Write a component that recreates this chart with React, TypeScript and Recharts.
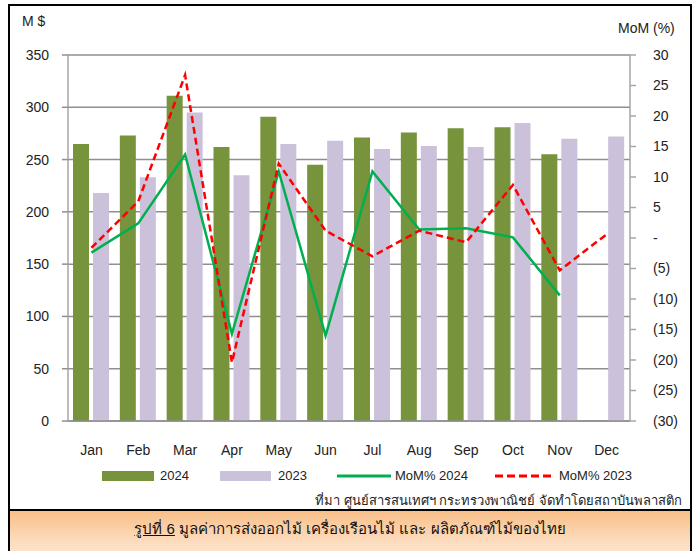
import { ComposedChart, Bar, Line, XAxis, YAxis, CartesianGrid } from 'recharts';

const months = ['Jan', 'Feb', 'Mar', 'Apr', 'May', 'Jun', 'Jul', 'Aug', 'Sep', 'Oct', 'Nov', 'Dec'];
const exports2024 = [265, 273, 311, 262, 291, 245, 271, 276, 280, 281, 255, null];
const exports2023 = [218, 233, 295, 235, 265, 268, 260, 263, 262, 285, 270, 272];
const mom2024 = [-2.4, 2.4, 13.7, -15.7, 10.9, -16, 10.9, 1.4, 1.6, 0.1, -9.4, null];
const mom2023 = [-1.6, 6, 26.7, -20.4, 12.2, 1.2, -3, 1.2, -0.7, 8.7, -5.3, 0.6];
const leftTicks = [0, 50, 100, 150, 200, 250, 300, 350];
const rightTicks = [-30, -25, -20, -15, -10, -5, 0, 5, 10, 15, 20, 25, 30];

const data = months.map((m, i) => ({
  month: m,
  y2024: exports2024[i],
  y2023: exports2023[i],
  mom2024: mom2024[i],
  mom2023: mom2023[i],
}));

const GREEN_BAR = '#77933c';
const LAVENDER = '#ccc1da';
const GREEN_LINE = '#00b050';
const RED = '#ff0000';
const GRID = '#8f8f8f';
const AXIS = '#a6a6a6';
const FONT = '"Liberation Sans", Arial, sans-serif';

const fmtRight = (v: number) => (v === 0 ? '-' : v < 0 ? `(${-v})` : `${v}`);

export default function App() {
  return (
    <div style={{ position: 'absolute', left: 0, top: 0, width: 692, height: 551, background: '#fff', fontFamily: FONT, overflow: 'hidden' }}>
      <div style={{ position: 'absolute', left: 8, top: 4, width: 680, height: 505, border: '2px solid #000' }} />
      <div style={{ position: 'absolute', left: 22, top: 13, fontSize: 14, color: '#222' }}>M $</div>
      <div style={{ position: 'absolute', left: 618, top: 20, fontSize: 14, color: '#222' }}>MoM (%)</div>
      <div style={{ position: 'absolute', left: 0, top: 0 }}>
        <ComposedChart width={692} height={551} data={data} margin={{ top: 55, right: 0, bottom: 100, left: 0 }} barGap={4}>
          <CartesianGrid yAxisId="left" vertical={false} stroke={GRID} strokeWidth={1.5} />
          <XAxis
            dataKey="month"
            height={30}
            axisLine={{ stroke: GRID, strokeWidth: 1.5 }}
            tickLine={false}
            tickMargin={18}
            tick={{ fontSize: 14, fill: '#222', fontFamily: FONT }}
          />
          <YAxis
            yAxisId="left"
            width={68}
            domain={[0, 350]}
            ticks={leftTicks}
            axisLine={{ stroke: AXIS, strokeWidth: 1.5 }}
            tickLine={{ stroke: GRID, strokeWidth: 1.5 }}
            tickSize={6}
            tickMargin={13}
            tick={{ fontSize: 14, fill: '#222', fontFamily: FONT }}
          />
          <YAxis
            yAxisId="right"
            orientation="right"
            width={62}
            domain={[-30, 30]}
            ticks={rightTicks}
            tickFormatter={fmtRight}
            axisLine={{ stroke: AXIS, strokeWidth: 1.5 }}
            tickLine={{ stroke: AXIS, strokeWidth: 1.5 }}
            tickSize={6}
            tickMargin={17}
            tick={{ fontSize: 14, fill: '#222', fontFamily: FONT }}
          />
          <Bar yAxisId="left" dataKey="y2024" fill={GREEN_BAR} barSize={16} isAnimationActive={false} />
          <Bar yAxisId="left" dataKey="y2023" fill={LAVENDER} barSize={16} isAnimationActive={false} />
          <Line yAxisId="right" type="linear" dataKey="mom2024" stroke={GREEN_LINE} strokeWidth={2.5} dot={false} isAnimationActive={false} />
          <Line yAxisId="right" type="linear" dataKey="mom2023" stroke={RED} strokeWidth={2.5} strokeDasharray="7 4" dot={false} isAnimationActive={false} />
        </ComposedChart>
      </div>
      <div style={{ position: 'absolute', top: 468, left: 0, width: 692, height: 16, fontSize: 13, color: '#222' }}>
        <div style={{ position: 'absolute', left: 102, top: 3, width: 52, height: 10, background: GREEN_BAR }} />
        <div style={{ position: 'absolute', left: 160, top: 0 }}>2024</div>
        <div style={{ position: 'absolute', left: 220, top: 3, width: 51, height: 10, background: LAVENDER }} />
        <div style={{ position: 'absolute', left: 278, top: 0 }}>2023</div>
        <svg style={{ position: 'absolute', left: 337, top: 0 }} width={56} height={16}>
          <line x1={0} y1={8} x2={54} y2={8} stroke={GREEN_LINE} strokeWidth={3} />
        </svg>
        <div style={{ position: 'absolute', left: 395, top: 0 }}>MoM% 2024</div>
        <svg style={{ position: 'absolute', left: 495, top: 0 }} width={60} height={16}>
          <line x1={0} y1={8} x2={58} y2={8} stroke={RED} strokeWidth={3} strokeDasharray="8 4" />
        </svg>
        <div style={{ position: 'absolute', left: 559, top: 0 }}>MoM% 2023</div>
      </div>
      <div style={{ position: 'absolute', right: 10, top: 490, fontSize: 13, color: '#222' }}>
        ที่มา ศูนย์สารสนเทศฯ กระทรวงพาณิชย์ จัดทำโดยสถาบันพลาสติก
      </div>
      <div
        style={{
          position: 'absolute',
          left: 8,
          top: 509,
          width: 680,
          height: 50,
          border: '2px solid #000',
          background: 'linear-gradient(to bottom, #f9bf88 0%, #fcdcbd 60%, #fde9d7 100%)',
        }}
      >
        <div style={{ position: 'absolute', left: 0, right: 0, top: 6, textAlign: 'center', fontSize: 15, color: '#111' }}>
          <span style={{ textDecoration: 'underline' }}>รูปที่ 6</span> มูลค่าการส่งออกไม้ เครื่องเรือนไม้ และ ผลิตภัณฑ์ไม้ของไทย
        </div>
      </div>
    </div>
  );
}
